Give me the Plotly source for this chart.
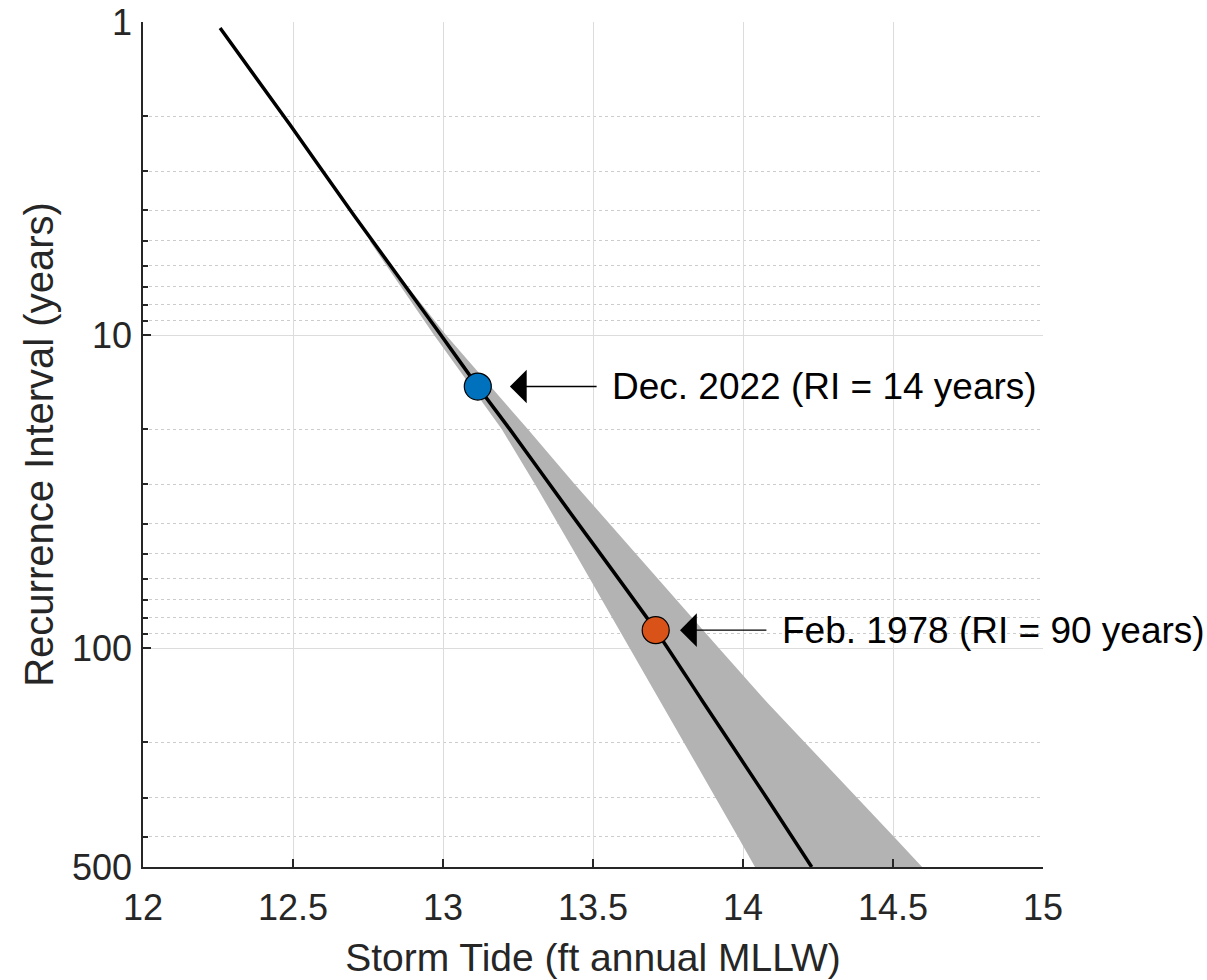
import math
import plotly.graph_objects as go

# ---- data ----
line_ri = [1.045, 2.13, 4.14, 10, 14.6, 20, 35.7, 87.6, 146.6, 300, 500]
line_tide = [12.257, 12.49, 12.703, 12.993, 13.116, 13.223, 13.413, 13.709, 13.863, 14.078, 14.229]

band_ri = [5, 7, 10, 20, 30, 50, 100, 150, 200, 300, 400, 500]
band_lower = [12.755, 12.858, 12.97, 13.196, 13.307, 13.442, 13.623, 13.727, 13.803, 13.909, 13.983, 14.04]
band_upper = [12.765, 12.882, 13.01, 13.283, 13.44, 13.643, 13.92, 14.083, 14.207, 14.38, 14.503, 14.597]

event_names = ["Dec. 2022 (RI = 14 years)", "Feb. 1978 (RI = 90 years)"]
event_tide = [13.116, 13.709]
event_ri = [14.6, 87.6]
event_colors = ["#0072BD", "#D95319"]
arrow_tip_tide = [13.223, 13.79]
arrow_tail_tide = [13.517, 14.083]
label_tide = [13.557, 14.123]

x_tick_vals = [12, 12.5, 13, 13.5, 14, 14.5, 15]
x_tick_text = ["12", "12.5", "13", "13.5", "14", "14.5", "15"]
y_tick_vals = [1, 10, 100, 500]
y_tick_text = ["1", "10", "100", "500"]
y_minor_vals = [2, 3, 4, 5, 6, 7, 8, 9, 20, 30, 40, 50, 60, 70, 80, 90, 200, 300, 400]

FONT = "Liberation Sans, Arial, sans-serif"
AX = "#262626"
GRID = "#dcdcdc"

fig = go.Figure()

fig.add_trace(go.Scatter(
    x=band_lower + band_upper[::-1],
    y=band_ri + band_ri[::-1],
    fill="toself", fillcolor="#b3b3b3", line=dict(width=0),
    mode="lines", hoverinfo="skip", showlegend=False,
))
fig.add_trace(go.Scatter(
    x=line_tide, y=line_ri, mode="lines",
    line=dict(color="black", width=3.5, shape="spline", smoothing=0.6), showlegend=False,
))
fig.add_trace(go.Scatter(
    x=event_tide, y=event_ri, mode="markers",
    marker=dict(size=27, color=event_colors, line=dict(color="black", width=1.2)),
    showlegend=False,
))

for i in range(len(event_names)):
    fig.add_annotation(
        x=arrow_tip_tide[i], y=math.log10(event_ri[i]),
        ax=arrow_tail_tide[i], ay=math.log10(event_ri[i]),
        xref="x", yref="y", axref="x", ayref="y",
        text="", showarrow=True, arrowhead=1, arrowsize=4, arrowwidth=1.4,
        arrowcolor="black", standoff=0, startstandoff=0,
    )
    fig.add_annotation(
        x=label_tide[i], y=math.log10(event_ri[i]),
        xref="x", yref="y", text=event_names[i], showarrow=False,
        xanchor="left", yanchor="middle",
        font=dict(family=FONT, size=37, color="black"),
    )

fig.update_layout(
    width=1207, height=980,
    margin=dict(l=143, r=164, t=22, b=113),
    plot_bgcolor="white", paper_bgcolor="white",
    font=dict(family=FONT, color=AX),
)
fig.update_xaxes(
    range=[12, 15], tickvals=x_tick_vals, ticktext=x_tick_text,
    ticks="inside", ticklen=8, tickcolor=AX, tickwidth=1.5,
    showline=True, linecolor=AX, linewidth=1.5,
    showgrid=True, gridcolor=GRID, gridwidth=1,
    zeroline=False, tickfont=dict(size=36, color=AX), automargin=False,
    ticklabelstandoff=8,
    title=dict(text="Storm Tide (ft annual MLLW)", font=dict(size=39, color=AX), standoff=17),
)
fig.update_yaxes(
    type="log", range=[math.log10(500), 0],
    tickvals=y_tick_vals, ticktext=y_tick_text,
    ticks="inside", ticklen=8, tickcolor=AX, tickwidth=1.5,
    showline=True, linecolor=AX, linewidth=1.5,
    showgrid=True, gridcolor=GRID, gridwidth=1,
    zeroline=False, tickfont=dict(size=36, color=AX), automargin=False,
    ticklabelstandoff=2,
    minor=dict(tickvals=y_minor_vals, ticks="inside", ticklen=5, tickcolor=AX,
               showgrid=True, gridcolor="#cccccc", griddash="dot", gridwidth=1),
    title=dict(text="Recurrence Interval (years)", font=dict(size=40, color=AX), standoff=6),
)

fig.write_html("out.html", config={"displayModeBar": False},
               post_script="document.body.style.margin='0';")
